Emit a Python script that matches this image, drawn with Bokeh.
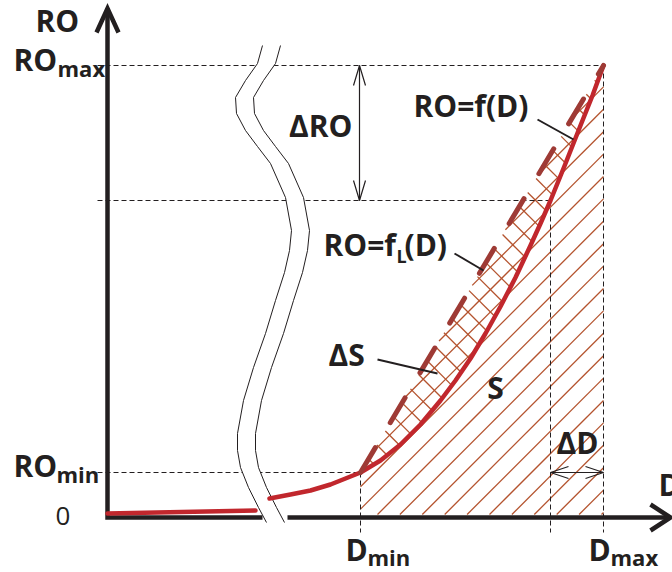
import numpy as np
from bokeh.plotting import figure
from bokeh.models import Range1d
from bokeh.core.properties import value
from bokeh.embed import file_html
from bokeh.resources import INLINE

# ---------------- data (chart units: D to the right, RO upward, origin at the axes crossing)
D_min, D_max, D_dash = 253, 496, 443          # D_dash = D_max - ΔD
RO_min, RO_mid, RO_max = 45, 317, 452         # RO_mid = RO_max - ΔRO

# RO = f(D) (right of the axis break)
f_D = [162, 183, 203, 223, 238, 253, 273, 293, 313, 333, 348, 363, 378, 393, 408,
       423, 433, 443, 458, 473, 485, 496]
f_RO = [19, 23, 27, 33, 39, 45, 57, 73, 93, 117, 137, 159, 184, 211, 240,
        272, 294, 317, 354, 392, 422, 452]
# RO = f(D) (left of the axis break)
f_left_D = [0, 148]
f_left_RO = [4, 7]

# RO = fL(D): straight line from (D_min, RO_min) to (D_max, RO_max)
fL_D = [D_min, D_max]
fL_RO = [RO_min, RO_max]

# axis break (wavy double line)
break_D = [155, 150, 138, 128, 129, 138, 150, 163, 178, 184, 182, 177, 168, 158,
           146, 136, 130, 130, 133, 141, 151, 159]
break_RO = [472, 454, 437, 420, 404, 387, 371, 354, 320, 287, 267, 245, 217, 184,
            150, 117, 84, 67, 50, 30, 10, -5]
break_gap = 18

INK = "#231f20"
RED = "#c1272d"
RED_DARK = "#9e3a35"
HATCH = "#b4532e"
FONT = value("Open Sans")

p = figure(width=672, height=572, x_range=Range1d(-107, 565), y_range=Range1d(-55, 517),
           output_backend="svg", toolbar_location=None, min_border=0,
           x_axis_location=None, y_axis_location=None, background_fill_color="white")
p.grid.visible = False
p.outline_line_color = None


# ---------------- hatching
def clip_lines(poly_x, poly_y, direction, spacing, phase):
    px = np.asarray(poly_x, float)
    py = np.asarray(poly_y, float)
    cvals = py - direction * px
    n0 = int(np.ceil((cvals.min() - phase) / spacing))
    n1 = int(np.floor((cvals.max() - phase) / spacing))
    xs, ys = [], []
    m = len(px)
    for n in range(n0, n1 + 1):
        c = phase + n * spacing
        pts = []
        for i in range(m):
            x1, y1 = px[i], py[i]
            x2, y2 = px[(i + 1) % m], py[(i + 1) % m]
            g1 = y1 - direction * x1 - c
            g2 = y2 - direction * x2 - c
            if (g1 > 0) != (g2 > 0):
                t = g1 / (g1 - g2)
                pts.append(x1 + t * (x2 - x1))
        pts.sort()
        for j in range(0, len(pts) - 1, 2):
            xa, xb = pts[j], pts[j + 1]
            xs.append([xa, xb])
            ys.append([direction * xa + c, direction * xb + c])
    return xs, ys


spacing = 22.4
bottom = 3
union_x = [D_min, D_max, D_max, D_min]
union_y = [RO_min, RO_max, bottom, bottom]
hx, hy = clip_lines(union_x, union_y, 1, spacing, -267.0)
p.multi_line(hx, hy, line_color=HATCH, line_width=1.3)

i0 = f_D.index(D_min)
dS_x = [D_min, D_max] + f_D[i0:][::-1][1:-1]
dS_y = [RO_min, RO_max] + f_RO[i0:][::-1][1:-1]
cx, cy = clip_lines(dS_x, dS_y, -1, spacing, 6.0)
p.multi_line(cx, cy, line_color=HATCH, line_width=1.3)

# ---------------- dashed reference lines
ref_x = [[-10, D_max + 2], [-10, D_dash], [-10, D_min], [D_min, D_min], [D_dash, D_dash], [D_max, D_max]]
ref_y = [[RO_max, RO_max], [RO_mid, RO_mid], [RO_min, RO_min], [RO_min, -15], [RO_mid, -15], [RO_max, -15]]
p.multi_line(ref_x, ref_y, line_color=INK, line_width=1, line_dash="5 3")

# ---------------- axis break
right_D = [d + break_gap for d in break_D]
p.patch(break_D + right_D[::-1], break_RO + break_RO[::-1], fill_color="white", line_color=None)
p.line(break_D, break_RO, line_color=INK, line_width=1)
p.line(right_D, break_RO, line_color=INK, line_width=1)

# ---------------- axes
p.line([0, 0, 155], [509, 0, 0], line_color=INK, line_width=4.5, line_join="miter")
p.line([180, 563], [0, 0], line_color=INK, line_width=4.5)
p.line([-11, 0, 11], [485, 509, 485], line_color=INK, line_width=4.5, line_join="miter")
p.line([543, 563, 543], [13, 0, -13], line_color=INK, line_width=4.5, line_join="miter")

# ---------------- curves
p.line(f_left_D, f_left_RO, line_color=RED, line_width=4.5, line_cap="round")
p.line(f_D, f_RO, line_color=RED, line_width=4.5, line_cap="round", line_join="round")
p.line(fL_D, fL_RO, line_color=RED_DARK, line_width=5, line_dash="29 29", line_cap="round")


# ---------------- double arrows
def head(tip_x, tip_y, dx, dy, length, half):
    n = np.hypot(dx, dy)
    ux, uy = dx / n, dy / n
    bx, by = tip_x - length * ux, tip_y - length * uy
    return ([bx - half * uy, tip_x, bx + half * uy], [by + half * ux, tip_y, by - half * ux])


arrow_D = 252
p.line([arrow_D, arrow_D], [RO_max, RO_mid], line_color=INK, line_width=1.2)
for tx, ty, dx, dy in [(arrow_D, RO_max, 0, 1), (arrow_D, RO_mid, 0, -1)]:
    ax, ay = head(tx, ty, dx, dy, 20, 6)
    p.line(ax, ay, line_color=INK, line_width=1.2)

p.line([D_dash, D_max], [RO_min, RO_min], line_color=INK, line_width=1.2)
for tx, ty, dx, dy in [(D_dash, RO_min, -1, 0), (D_max, RO_min, 1, 0)]:
    ax, ay = head(tx, ty, dx, dy, 18, 6)
    p.line(ax, ay, line_color=INK, line_width=1.2)

# ---------------- leader lines
p.multi_line([[430, 466], [347, 376], [270, 330]], [[398, 378], [264, 247], [158, 144]],
             line_color=INK, line_width=2)

# ---------------- texts
big = dict(text_font=FONT, text_font_style="bold", text_font_size="30px",
           text_color=INK, text_baseline="alphabetic")
sub = dict(text_font=FONT, text_font_style="bold", text_font_size="22px",
           text_color=INK, text_baseline="alphabetic")

p.text(x=[-72, -94, -94, 238, 481, 551, 221, 306, 216, 297],
       y=[497.5, 458.5, 52.5, -31.5, -31.5, 33.5, 163.5, 412.5, 273.5, 273.5],
       text=["RO", "RO", "RO", "D", "D", "D", "ΔS", "RO=f(D)", "RO=f", "(D)"],
       text_align="left", **big)
p.text(x=[245], y=[392.5], text=["ΔRO"], text_align="right", **big)
p.text(x=[470, 388], y=[75.5, 130.5], text=["ΔD", "S"], text_align="center", **big)
p.text(x=[-50, -51, 260, 503], y=[450, 44, -39, -39], text=["max", "min", "min", "max"],
       text_align="left", **sub)
p.text(x=[289], y=[262], text=["L"], text_align="left", text_font=FONT, text_font_style="bold",
       text_font_size="18px", text_color=INK, text_baseline="alphabetic")
p.text(x=[-52], y=[2], text=["0"], text_align="left", text_font=FONT,
       text_font_size="26px", text_color=INK, text_baseline="alphabetic")

open("out.html", "w").write(file_html(p, INLINE))
